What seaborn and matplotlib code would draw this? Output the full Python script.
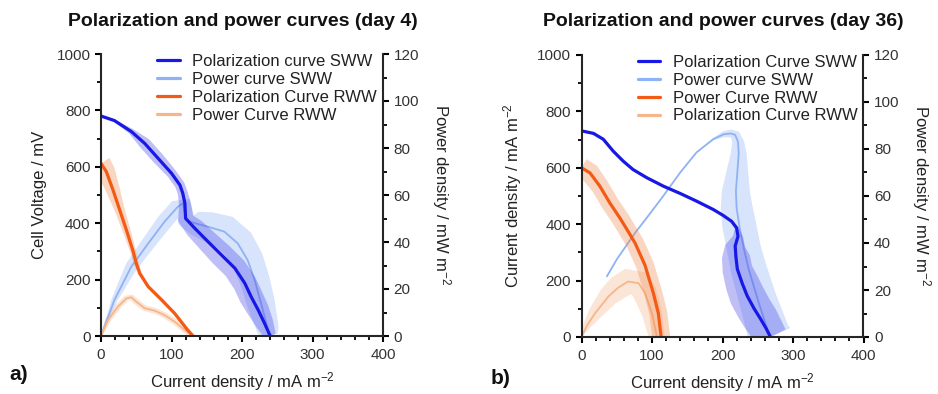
import numpy as np
import matplotlib
matplotlib.use("Agg")
import matplotlib.pyplot as plt
import seaborn as sns
from matplotlib.ticker import MultipleLocator
from matplotlib.lines import Line2D

# ---------------- data ----------------
# Day 4 (panel a)
d4_pol_sww_i = [0, 19, 43, 62, 81, 100, 112, 116, 119, 120, 133, 152, 171, 190, 204, 213, 223, 232, 240]
d4_pol_sww_v = [780, 764, 725, 683, 630, 577, 535, 506, 470, 417, 382, 334, 287, 240, 187, 139, 92, 45, 0]
d4_pol_sww_sd = [1, 1, 3, 6, 6, 5, 5, 5, 6, 8, 10, 11, 12, 12, 12, 12, 11, 9, 6]

d4_pow_sww_i = [0, 19, 43, 67, 90, 109, 116, 121, 133, 152, 175, 194, 208, 218, 227, 237, 240]
d4_pow_sww_p = [0, 15.3, 29.5, 39.4, 48.6, 55, 56.5, 49.4, 48, 46.5, 44.4, 39.4, 32.3, 23.8, 13.9, 2.5, 0]
d4_pow_sww_sd = [0, 3, 6, 7, 8, 8, 8, 9, 12, 15, 17, 17, 16, 15, 14, 11, 8]

d4_pol_rww_i = [0, 7.5, 17, 26.5, 36, 45, 50, 55, 67, 86, 104.5, 123, 130.5]
d4_pol_rww_v = [612, 583, 518, 447, 376, 305, 258, 222, 175, 128, 80, 21, 0]
d4_pol_rww_sd = [10, 9, 7, 5, 4, 3, 2.5, 2, 1.5, 1.5, 1.5, 1.5, 1.5]

d4_pow_rww_i = [0, 10, 24, 36, 43, 50, 62, 76, 90, 104.5, 119, 128]
d4_pow_rww_p = [0, 6.8, 12.5, 16, 16.5, 14.6, 11.8, 10.8, 8.9, 6.1, 2.5, 0.4]
d4_pow_rww_sd = [1, 3, 3, 3, 3, 3, 3, 3, 3, 3, 3, 2]

# Day 36 (panel b)
d36_pol_sww_i = [0, 17, 31, 45, 59, 73, 92.5, 116, 140, 163, 187, 201, 213, 220, 222, 218, 219, 221, 228, 235, 245, 254, 262, 268]
d36_pol_sww_v = [731, 722, 701, 659, 624, 594, 565, 535, 509, 482, 452, 431, 410, 387, 357, 323, 285, 241, 190, 146, 100, 64, 30, 0]
d36_pol_sww_sd = [1, 1, 1, 1, 1, 1, 1, 1, 1, 1, 1, 1, 1, 2, 5, 10, 14, 15, 17, 18, 18, 18, 17, 17]

d36_pow_sww_i = [36, 50, 76, 92.5, 116, 140, 163, 187, 202, 212, 218, 222, 223, 221, 219, 220, 224, 230, 237, 251, 265, 268]
d36_pow_sww_p = [25.8, 33, 44.3, 50.7, 60, 70, 78.5, 84.2, 86.3, 86.6, 86, 83, 78, 70, 62, 55, 47, 38, 29, 15, 2, 0]
d36_pow_sww_sd = [0, 0, 0, 0, 0, 0, 0, 1, 3, 4, 5, 6, 8, 11, 14, 16, 17, 17, 18, 19, 21, 22]

d36_pol_rww_i = [0, 12, 26, 40, 55, 66, 76, 90, 102, 109, 113]
d36_pol_rww_v = [600, 582, 535, 476, 420, 375, 333, 255, 155, 84, 0]
d36_pol_rww_sd = [10, 10, 9, 9, 9, 9, 9, 9, 9, 9, 9]

d36_pow_rww_i = [0, 8, 19, 38, 52, 66, 81, 90, 100, 107]
d36_pow_rww_p = [0, 5, 10, 17.2, 21, 23.6, 22.9, 18.7, 10, 0]
d36_pow_rww_sd = [0, 4, 7, 10, 12, 13, 13, 12, 10, 8]

titles = ["Polarization and power curves (day 4)", "Polarization and power curves (day 36)"]
left_labels = ["Cell Voltage / mV", "Current density / mA m$^{-2}$"]
right_label = "Power density / mW m$^{-2}$"
x_label = "Current density / mA m$^{-2}$"
panel_tags = ["a)", "b)"]
legend_labels = [
    ["Polarization curve SWW", "Power curve SWW", "Polarization Curve RWW", "Power Curve RWW"],
    ["Polarization Curve SWW", "Power curve SWW", "Power Curve RWW", "Polarization Curve RWW"],
]

# ---------------- style ----------------
sns.set_theme(style="ticks")
plt.rcParams["font.family"] = ["Liberation Sans", "DejaVu Sans"]
plt.rcParams["axes.linewidth"] = 1.5
plt.rcParams["mathtext.default"] = "regular"

C_DBLUE = "#1818e6"
C_LBLUE = "#8fb2f4"
C_BAND_DB = "#4848e8"
C_BAND_LB = "#8fb2f4"
C_ORANGE = "#f35a16"
C_LORANGE = "#f6b68a"
C_BAND_OR = "#f08a50"
C_BAND_LO = "#f6b68a"
TXT = "#222222"

fig = plt.figure(figsize=(9.38, 3.94), dpi=100)


def ribbon(ax, x, y, hw, color, alpha, z=1):
    """Shaded band of half-width hw (pixels) drawn perpendicular to the curve."""
    pts = ax.transData.transform(np.column_stack([x, y]).astype(float))
    d = np.gradient(pts, axis=0)
    n = np.column_stack([-d[:, 1], d[:, 0]])
    n /= np.maximum(np.linalg.norm(n, axis=1)[:, None], 1e-9)
    w = np.asarray(hw, float)[:, None]
    poly = np.vstack([pts + n * w, (pts - n * w)[::-1]])
    data = ax.transData.inverted().transform(poly)
    ax.fill(data[:, 0], data[:, 1], color=color, alpha=alpha, lw=0, zorder=z)


def make_panel(rect, k, pol_a, pow_a, pol_b, pow_b, ylab_x):
    ax = fig.add_axes(rect)
    ax2 = ax.twinx()
    ax.set_xlim(0, 400)
    ax.set_ylim(0, 1000)
    ax2.set_ylim(0, 120)
    ax.set_zorder(ax2.get_zorder() + 1)
    ax.patch.set_visible(False)

    # bands
    ribbon(ax2, pow_a[0], pow_a[1], pow_a[2], C_BAND_LB, 0.35)
    ribbon(ax2, pow_b[0], pow_b[1], pow_b[2], C_BAND_LO, 0.35)
    ribbon(ax, pol_a[0], pol_a[1], pol_a[2], C_BAND_DB, 0.35)
    ribbon(ax, pol_b[0], pol_b[1], pol_b[2], C_BAND_OR, 0.35)

    # lines
    sns.lineplot(x=pow_a[0], y=pow_a[1], sort=False, ax=ax2, color=pow_a[3], lw=1.3, legend=False)
    sns.lineplot(x=pow_b[0], y=pow_b[1], sort=False, ax=ax2, color=pow_b[3], lw=1.3, legend=False)
    sns.lineplot(x=pol_a[0], y=pol_a[1], sort=False, ax=ax, color=pol_a[3], lw=2.3, legend=False)
    sns.lineplot(x=pol_b[0], y=pol_b[1], sort=False, ax=ax, color=pol_b[3], lw=2.3, legend=False)

    ax.set_xlim(0, 400)
    ax.set_ylim(0, 1000)
    ax2.set_ylim(0, 120)

    for a in (ax, ax2):
        a.spines["top"].set_visible(False)
    ax.spines["right"].set_visible(False)
    ax2.spines["left"].set_visible(False)
    ax2.spines["bottom"].set_visible(False)
    ax2.spines["right"].set_linewidth(1.5)

    ax.xaxis.set_major_locator(MultipleLocator(100))
    ax.xaxis.set_minor_locator(MultipleLocator(20))
    ax.yaxis.set_major_locator(MultipleLocator(200))
    ax.yaxis.set_minor_locator(MultipleLocator(100))
    ax2.yaxis.set_major_locator(MultipleLocator(20))
    ax2.yaxis.set_minor_locator(MultipleLocator(10))
    for a in (ax, ax2):
        a.tick_params(which="major", direction="out", length=4.5, width=1.5,
                      labelsize=11, labelcolor="#333333", color="black", pad=3)
        a.tick_params(which="minor", direction="out", length=3, width=1.3, color="black")
    ax.tick_params(axis="x", which="major", pad=4)

    ax.set_xlabel(x_label, fontsize=12, color=TXT, va="center")
    ax.xaxis.set_label_coords(0.5, -0.163)
    ax.set_ylabel(left_labels[k], fontsize=12, color=TXT)
    ax.yaxis.set_label_coords(ylab_x, 0.5)
    ax2.set_ylabel(right_label, fontsize=12, color=TXT, rotation=270, va="center")
    ax2.yaxis.set_label_coords(1.207, 0.5)
    ax.grid(False)
    ax2.grid(False)

    handles = [Line2D([], [], color=c, lw=2.3) for c in (pol_a[3], pow_a[3], pol_b[3], pow_b[3])]
    leg = ax.legend(handles, legend_labels[k], loc="upper left", bbox_to_anchor=(0.2, 1.0),
                    frameon=False, fontsize=12, handlelength=1.35, handletextpad=0.75,
                    labelspacing=0.17, borderpad=0, borderaxespad=0)
    for t in leg.get_texts():
        t.set_color(TXT)
    return ax, ax2


W, H = 938.0, 394.0
rect_a = [101 / W, 1 - 336 / H, 282 / W, 282 / H]
rect_b = [581.5 / W, 1 - 337 / H, 282 / W, 282 / H]

make_panel(rect_a, 0,
           (d4_pol_sww_i, d4_pol_sww_v, d4_pol_sww_sd, C_DBLUE),
           (d4_pow_sww_i, d4_pow_sww_p, d4_pow_sww_sd, C_LBLUE),
           (d4_pol_rww_i, d4_pol_rww_v, d4_pol_rww_sd, C_ORANGE),
           (d4_pow_rww_i, d4_pow_rww_p, d4_pow_rww_sd, C_LORANGE), -0.19)
make_panel(rect_b, 1,
           (d36_pol_sww_i, d36_pol_sww_v, d36_pol_sww_sd, C_DBLUE),
           (d36_pow_sww_i, d36_pow_sww_p, d36_pow_sww_sd, C_LBLUE),
           (d36_pol_rww_i, d36_pol_rww_v, d36_pol_rww_sd, C_ORANGE),
           (d36_pow_rww_i, d36_pow_rww_p, d36_pow_rww_sd, C_LORANGE), -0.205)

fig.text(243 / W, 1 - 22 / H, titles[0], ha="center", va="center", fontsize=14,
         fontweight="bold", color="#111111")
fig.text(723 / W, 1 - 22 / H, titles[1], ha="center", va="center", fontsize=14,
         fontweight="bold", color="#111111")
fig.text(9 / W, 1 - 375 / H, panel_tags[0], ha="left", va="center", fontsize=15,
         fontweight="bold", color="#111111")
fig.text(491 / W, 1 - 379 / H, panel_tags[1], ha="left", va="center", fontsize=15,
         fontweight="bold", color="#111111")

fig.savefig("out.png", dpi=100, facecolor="white")
